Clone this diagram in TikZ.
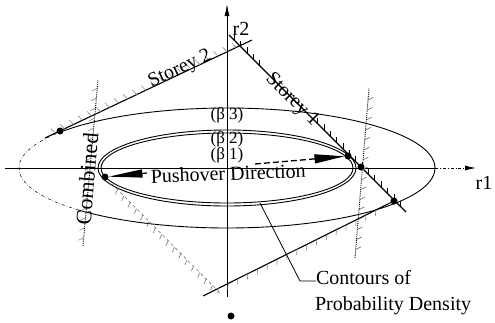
\documentclass[tikz,border=0pt]{standalone}
\usepackage{fontspec}
\setmainfont{Liberation Serif}
\usetikzlibrary{arrows.meta,decorations.markings,calc}
\tikzset{
  lbl/.style={font=\fontsize{20}{24}\selectfont, inner sep=0pt, outer sep=0pt},
  blbl/.style={font=\fontsize{17}{20}\selectfont, inner sep=0pt, outer sep=0pt},
  axisline/.style={line width=0.8pt},
  curve/.style={line width=0.9pt},
  limitline/.style={line width=1.1pt},
  dotnode/.style={circle, fill=black, minimum size=7pt, inner sep=0pt, outer sep=0pt},
  tickmark/.style={solid, line width=0.6pt},
  hatchmarks/.style n args={5}{postaction={decorate, decoration={markings,
     mark=between positions #1 and #2 step #3 with {\draw[tickmark,#5] (0pt,0pt) -- #4;}}}},
}
\begin{document}
\begin{tikzpicture}[x=1pt,y=-1pt]
\useasboundingbox (0,0) rectangle (495,322);
\fill[white] (0,0) rectangle (495,322);
\coordinate (O) at (227,168);
% axes
\coordinate (xl) at (5,168);
\coordinate (xm) at (435,168);
\coordinate (xr) at (476,168);
\coordinate (yb) at (227,297);
\coordinate (yt) at (227,4);
\draw[axisline] (xl) -- (xm);
\draw[axisline, dash dot, -{Latex[length=11pt,width=5pt]}] (xm) -- (xr);
\draw[axisline, -{Latex[length=12pt,width=5pt]}] (yb) -- (yt);
\node[lbl] (r1) at (484,183) {r1};
\node[lbl] (r2) at (241,29) {r2};
% contours
\draw[curve] (O) ++(218.1:208 and 60) arc[start angle=218.1, end angle=495.4, x radius=208, y radius=60];
\draw[line width=0.5pt, dash dot] (O) ++(135.4:208 and 60) arc[start angle=135.4, end angle=218.1, x radius=208, y radius=60];
\draw[curve] (O) ellipse[x radius=129, y radius=38];
\draw[curve] (O) ellipse[x radius=126, y radius=35];
\node[blbl] (b3) at (227,115) {(β 3)};
\node[blbl] (b2) at (227,139) {(β 2)};
\node[blbl] (b1) at (227,155) {(β 1)};
% points
\node[dotnode] (LD) at (60,131) {};
\node[dotnode] (L) at (105,177) {};
\node[dotnode] (R) at (348,156) {};
\node[dotnode] (I) at (361,167) {};
\node[dotnode] (LR) at (394,201) {};
\node[dotnode] (B) at (231,316) {};
% storey 2
\coordinate (s2a) at (45,138);
\coordinate (s2b) at (252,40);
\draw[limitline, hatchmarks={0.05}{0.95}{10pt}{(-2pt,6pt)}{black!45}] (s2a) -- (s2b);
\node[lbl, anchor=base, rotate=25.3] at ($(s2a)!0.662!(s2b)$) {Storey 2};
% storey 1
\coordinate (s1a) at (229,35);
\coordinate (s1b) at (406,212);
\draw[limitline, hatchmarks={0.03}{0.2}{9pt}{(-4pt,4pt)}{black},
  hatchmarks={0.5}{0.98}{9pt}{(-4pt,4pt)}{black}] (s1a) -- (s1b);
\node[lbl, rotate=-45] at (292,100) {Storey 1};
% mirrored limit lines
\coordinate (m1a) at (112,184);
\coordinate (m1b) at (221,294);
\draw[black!55, line width=0.6pt, dashed, hatchmarks={0.05}{0.95}{9pt}{(2pt,-5pt)}{black!55}] (m1a) -- (m1b);
\coordinate (m2a) at (203,296);
\draw[limitline, hatchmarks={0.08}{0.95}{11pt}{(-3pt,-5pt)}{black!50}] (m2a) -- (LR.center);
% combined
\coordinate (cl1) at (83,246);
\coordinate (cl2) at (98,80);
\draw[densely dotted, line width=0.9pt, hatchmarks={0.05}{0.95}{10pt}{(-3pt,5pt)}{black!50}] (cl1) -- (cl2);
\node[font=\fontsize{22}{26}\selectfont, inner sep=0pt, rotate=85] (comb) at (87,179) {Combined};
\coordinate (cr1) at (355,258);
\coordinate (cr2) at (369,88);
\draw[densely dotted, line width=0.9pt, hatchmarks={0.05}{0.95}{10pt}{(3pt,-5pt)}{black!60}] (cr1) -- (cr2);
% pushover direction
\coordinate (pl) at (147,173);
\coordinate (pd) at (255,164);
\draw[line width=1.2pt, -{Triangle[length=34pt,width=8pt]}] (pl) -- (L);
\draw[line width=1.3pt, dash pattern=on 6pt off 3pt, -{Triangle[length=30pt,width=9pt]}] (pd) -- (R);
\node[lbl, anchor=base west, rotate=2] (push) at (151,183) {Pushover Direction};
% contours label
\node[lbl, anchor=base west] (c1) at (316,284) {Contours of};
\node[lbl, anchor=base west] (c2) at (315,310) {Probability Density};
\coordinate (cs) at (260,203);
\coordinate (ck) at (300,281);
\draw[line width=0.8pt] (cs) -- (ck) -- (ck -| c1.west);
\end{tikzpicture}
\end{document}
